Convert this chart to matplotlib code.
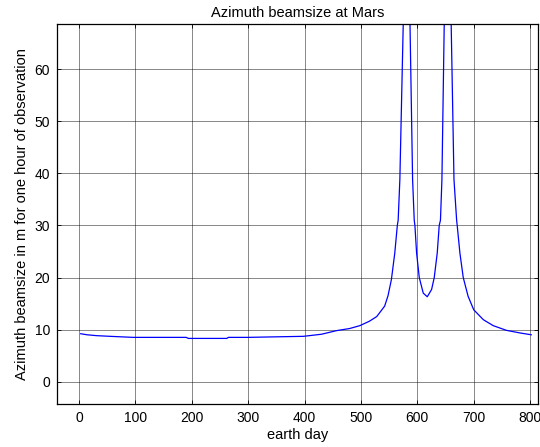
import matplotlib
matplotlib.use("Agg")
import matplotlib.pyplot as plt

# values (clipped peaks go above the axes)
earth_day = [3, 14, 31, 55, 96, 140, 190, 194, 230, 262, 265, 300, 338, 398,
             430, 457, 480, 498, 515, 528, 542, 548, 554, 560, 564.5, 566,
             569, 575, 581, 587, 591.6, 594.5, 595.7, 598.7, 603.4, 610.5,
             617.6, 625.3, 630, 635.3, 638.8, 641, 643.6, 647.7, 654, 660,
             665, 669.7, 670.7, 675.5, 681.4, 690, 700, 717, 734.6, 758, 782,
             802]
beamsize = [9.2, 9.0, 8.83, 8.7, 8.5, 8.5, 8.5, 8.3, 8.3, 8.3, 8.5, 8.5, 8.58,
            8.7, 9.1, 9.8, 10.2, 10.75, 11.6, 12.5, 14.5, 16.5, 19.6, 24.7, 30,
            31, 38.8, 68.7, 120, 68.7, 38.8, 31, 30, 24.7, 20, 17, 16.3, 17.7,
            20, 24.7, 30, 31, 38.8, 68.7, 120, 68.7, 38.8, 31, 30, 24.7, 20,
            16.4, 13.8, 11.9, 10.75, 9.85, 9.35, 9.0]

x_ticks = list(range(0, 801, 100))
y_ticks = list(range(0, 61, 10))

plt.rcParams["font.family"] = ["Liberation Sans", "DejaVu Sans"]

fig = plt.figure(figsize=(5.4, 4.47), dpi=100)
ax = fig.add_axes([0.1056, 0.0962, 0.8907, 0.8501])

ax.plot(earth_day, beamsize, color="b", linewidth=0.9)

ax.set_xlim(-39, 814)
ax.set_ylim(-4.3, 68.7)
ax.set_xticks(x_ticks)
ax.set_yticks(y_ticks)
ax.grid(True, color="k", linewidth=0.6, alpha=0.55)
ax.tick_params(direction="in", top=True, right=True, length=3, width=0.6,
               labelsize=10, pad=5)
for s in ax.spines.values():
    s.set_linewidth(0.9)

ax.set_title("Azimuth beamsize at Mars", fontsize=10.5, pad=5)
ax.set_xlabel("earth day", fontsize=10.5, labelpad=2)
ax.set_ylabel("Azimuth beamsize in m for one hour of observation",
              fontsize=10.5, labelpad=4)

fig.savefig("out.png", dpi=100)
